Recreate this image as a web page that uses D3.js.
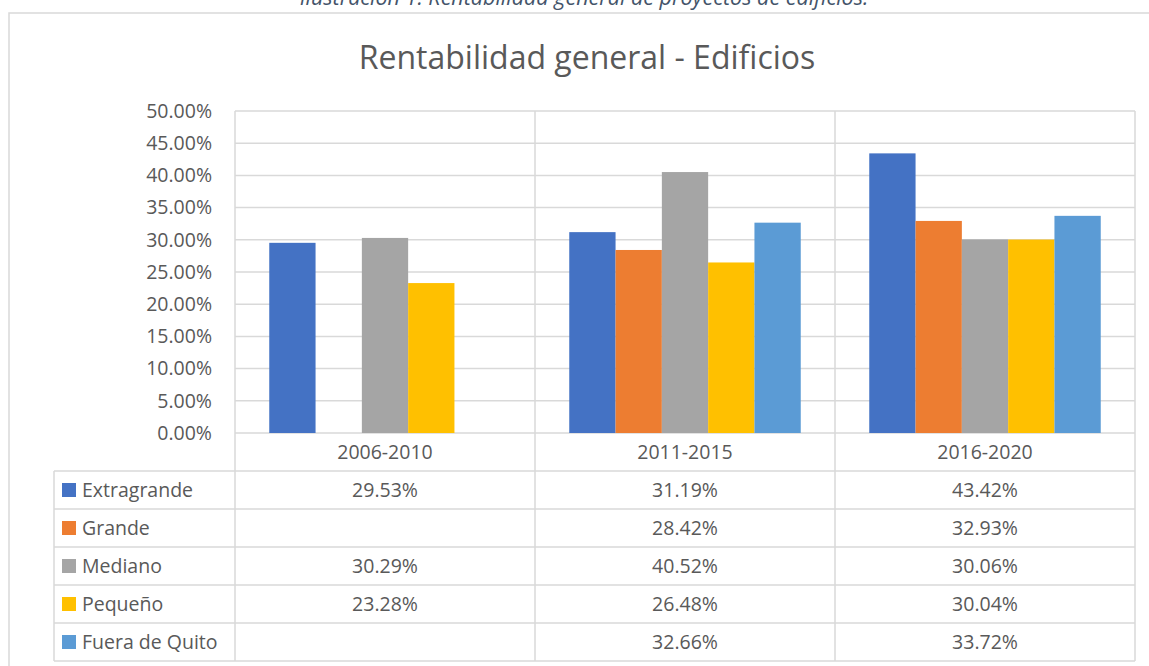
<!DOCTYPE html>
<html>
<head>
<meta charset="utf-8">
<script src="https://cdn.jsdelivr.net/npm/d3@7"></script>
<style>
  body { margin: 0; background: #fff; }
  text { font-family: "Open Sans", "Noto Sans", sans-serif; }
</style>
</head>
<body>
<div id="chart"></div>
<script>
const categories = ["2006-2010", "2011-2015", "2016-2020"];
const seriesNames = ["Extragrande", "Grande", "Mediano", "Pequeño", "Fuera de Quito"];
const seriesColors = ["#4472C4", "#ED7D31", "#A5A5A5", "#FFC000", "#5B9BD5"];
const extragrande = [0.2953, 0.3119, 0.4342];
const grande = [null, 0.2842, 0.3293];
const mediano = [0.3029, 0.4052, 0.3006];
const pequeno = [0.2328, 0.2648, 0.3004];
const fueraDeQuito = [null, 0.3266, 0.3372];
const yTicks = [0, 0.05, 0.10, 0.15, 0.20, 0.25, 0.30, 0.35, 0.40, 0.45, 0.50];

const seriesValues = [extragrande, grande, mediano, pequeno, fueraDeQuito];
const series = seriesNames.map((name, i) => ({
  name: name,
  color: seriesColors[i],
  values: seriesValues[i]
}));

const width = 1149, height = 666;
const margin = {top: 111, right: 14, bottom: 233, left: 235};
const tableLeft = 54, rowH = 38;
const lineColor = "#d9d9d9";
const textColor = "#595959";
const fontSize = 19.5;
const fmt = d3.format(".2%");

const svg = d3.select("#chart").append("svg")
    .attr("width", width)
    .attr("height", height);

// caption above the chart (cut off at the top in the original)
svg.append("text")
    .attr("x", 584)
    .attr("y", 5)
    .attr("text-anchor", "middle")
    .attr("font-style", "italic")
    .attr("font-size", 21.5)
    .attr("fill", "#44546A")
    .text("Ilustración 1: Rentabilidad general de proyectos de edificios.");

// chart border (only top and left visible)
svg.append("path")
    .attr("d", `M9,${height + 5}V13H${width + 5}`)
    .attr("fill", "none")
    .attr("stroke", lineColor)
    .attr("stroke-width", 1.5);

svg.append("text")
    .attr("x", 587)
    .attr("y", 69)
    .attr("text-anchor", "middle")
    .attr("font-size", 32)
    .attr("fill", textColor)
    .text("Rentabilidad general - Edificios");

let x0 = d3.scaleBand()
    .domain(categories)
    .range([margin.left, width - margin.right]);

let x1 = d3.scaleBand()
    .domain(seriesNames)
    .range([0, x0.bandwidth()])
    .paddingOuter(0.74);

let y = d3.scaleLinear()
    .domain([0, 0.5])
    .range([433, margin.top]);

// horizontal gridlines
svg.append("g")
    .selectAll("line")
    .data(yTicks)
    .join("line")
      .attr("x1", margin.left)
      .attr("x2", width - margin.right)
      .attr("y1", d => y(d))
      .attr("y2", d => y(d))
      .attr("stroke", lineColor)
      .attr("stroke-width", 1.5);

const tableTop = y(0) + rowH;
const tableBottom = tableTop + rowH * series.length;

// vertical lines at category bounds, running through the data table
const bounds = categories.map(c => x0(c)).concat([x0.range()[1]]);
svg.append("g")
    .selectAll("line")
    .data(bounds)
    .join("line")
      .attr("x1", d => d)
      .attr("x2", d => d)
      .attr("y1", margin.top)
      .attr("y2", tableBottom)
      .attr("stroke", lineColor)
      .attr("stroke-width", 1.5);

// table row lines
svg.append("g")
    .selectAll("line")
    .data(d3.range(series.length + 1))
    .join("line")
      .attr("x1", tableLeft)
      .attr("x2", width - margin.right)
      .attr("y1", i => tableTop + i * rowH)
      .attr("y2", i => tableTop + i * rowH)
      .attr("stroke", lineColor)
      .attr("stroke-width", 1.5);

svg.append("line")
    .attr("x1", tableLeft).attr("x2", tableLeft)
    .attr("y1", tableTop).attr("y2", tableBottom)
    .attr("stroke", lineColor)
    .attr("stroke-width", 1.5);

// bars
svg.append("g")
    .selectAll("g")
    .data(series)
    .join("g")
      .attr("fill", d => d.color)
    .selectAll("rect")
    .data(d => d.values.map((v, i) => ({name: d.name, cat: categories[i], value: v})).filter(e => e.value !== null))
    .join("rect")
      .attr("x", d => x0(d.cat) + x1(d.name))
      .attr("width", x1.bandwidth())
      .attr("y", d => y(d.value))
      .attr("height", d => y(0) - y(d.value));

// y axis labels
let yAxis = g => g
    .attr("transform", `translate(${margin.left - 23},0)`)
    .call(d3.axisLeft(y).tickValues(yTicks).tickFormat(fmt).tickSize(0).tickPadding(0))
    .call(g => g.select(".domain").remove())
    .call(g => g.selectAll("text")
        .attr("fill", textColor)
        .style("font-size", fontSize + "px")
        .style("font-family", "'Open Sans', sans-serif"));

svg.append("g").call(yAxis);

// category labels
svg.append("g")
    .selectAll("text")
    .data(categories)
    .join("text")
      .attr("x", d => x0(d) + x0.bandwidth() / 2)
      .attr("y", y(0) + rowH / 2)
      .attr("dy", "0.35em")
      .attr("text-anchor", "middle")
      .attr("font-size", fontSize)
      .attr("fill", textColor)
      .text(d => d);

// data table rows
let rows = svg.append("g")
    .selectAll("g")
    .data(series)
    .join("g")
      .attr("transform", (d, i) => `translate(0,${tableTop + i * rowH + rowH / 2})`);

rows.append("rect")
    .attr("x", 62)
    .attr("y", -7)
    .attr("width", 14)
    .attr("height", 14)
    .attr("fill", d => d.color);

rows.append("text")
    .attr("x", 82)
    .attr("dy", "0.35em")
    .attr("font-size", fontSize)
    .attr("fill", textColor)
    .text(d => d.name);

rows.selectAll("text.val")
    .data(d => d.values.map((v, i) => ({cat: categories[i], value: v})).filter(e => e.value !== null))
    .join("text")
      .attr("class", "val")
      .attr("x", d => x0(d.cat) + x0.bandwidth() / 2)
      .attr("dy", "0.35em")
      .attr("text-anchor", "middle")
      .attr("font-size", fontSize)
      .attr("fill", textColor)
      .text(d => fmt(d.value));
</script>
</body>
</html>
